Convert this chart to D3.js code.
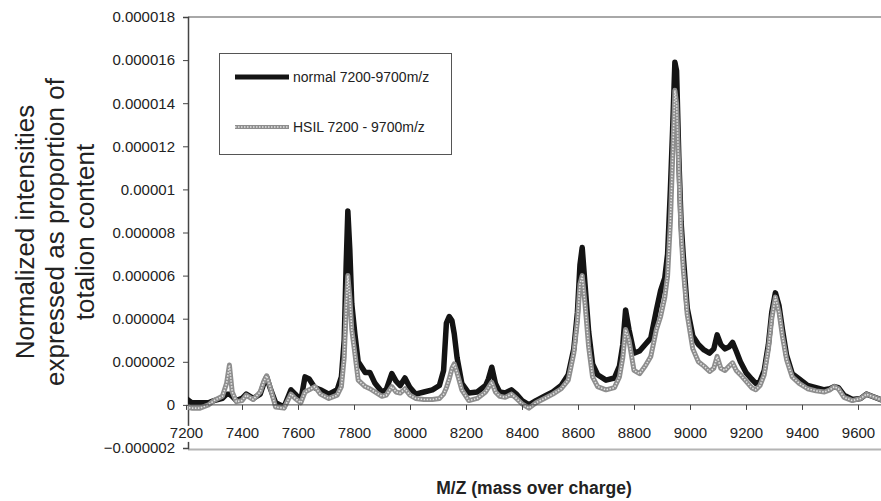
<!DOCTYPE html>
<html>
<head>
<meta charset="utf-8">
<script src="https://cdn.jsdelivr.net/npm/d3@7"></script>
<style>
  html, body { margin: 0; padding: 0; background: #fff; }
  svg { display: block; font-family: "Liberation Sans", Arial, sans-serif; }
</style>
</head>
<body>
<svg id="chart" width="881" height="501"></svg>
<script>
// ---- data (intensities in units of 1e-6) ----
const mz = [7200,7220,7250,7280,7300,7330,7345,7355,7365,7380,7400,7415,7440,7465,7478,7488,7500,7520,7550,7575,7590,7610,7625,7640,7660,7680,7710,7740,7755,7765,7772,7778,7785,7792,7803,7815,7840,7857,7875,7900,7915,7935,7950,7965,7982,8000,8020,8050,8080,8105,8120,8130,8140,8150,8158,8168,8185,8210,8240,8270,8280,8292,8305,8320,8340,8362,8380,8400,8425,8450,8480,8510,8540,8565,8585,8598,8607,8615,8625,8638,8652,8670,8700,8730,8748,8760,8770,8782,8800,8820,8840,8860,8880,8895,8910,8920,8930,8938,8946,8952,8960,8968,8976,8990,9010,9030,9050,9070,9085,9097,9110,9125,9140,9152,9165,9180,9200,9220,9235,9250,9265,9280,9292,9305,9318,9330,9345,9365,9390,9420,9450,9480,9500,9515,9530,9550,9580,9610,9630,9650,9680,9700];

const normalVals = [0.3,0.1,0.1,0.1,0.2,0.3,0.5,0.5,0.4,0.2,0.3,0.5,0.3,0.5,1.0,1.3,0.8,0.1,-0.1,0.7,0.5,0.2,1.3,1.2,0.8,0.7,0.5,0.7,1.3,3.0,6.5,9.0,7.2,4.7,3.3,2.0,1.5,1.5,1.0,0.6,0.7,1.45,1.1,0.9,1.25,0.8,0.5,0.6,0.7,0.9,1.6,3.8,4.1,3.9,3.3,2.2,1.0,0.55,0.6,0.9,1.2,1.75,1.0,0.6,0.55,0.7,0.5,0.2,0.0,0.2,0.4,0.6,0.9,1.4,2.6,4.3,6.5,7.3,5.6,3.4,1.9,1.4,1.15,1.25,1.8,2.8,4.4,3.5,2.4,2.5,2.8,3.1,4.4,5.3,5.9,7.0,10.0,12.8,15.9,15.5,11.5,8.5,6.9,4.5,3.2,2.8,2.55,2.4,2.6,3.25,2.8,2.6,2.7,2.9,2.5,2.0,1.5,1.2,1.0,1.1,1.6,2.8,4.3,5.2,4.6,3.5,2.3,1.45,1.2,0.9,0.8,0.7,0.75,0.85,0.8,0.45,0.25,0.3,0.5,0.4,0.25,0.2];

const hsilVals = [-0.1,-0.15,-0.15,0.0,0.2,0.4,1.0,1.85,0.6,0.15,0.2,0.45,0.25,0.6,1.1,1.35,0.85,-0.1,-0.15,0.5,0.3,0.1,0.6,0.7,0.85,0.5,0.3,0.45,0.85,2.2,4.5,6.0,5.0,3.5,2.4,1.15,0.85,0.75,0.6,0.4,0.45,0.85,0.6,0.55,0.75,0.45,0.3,0.25,0.25,0.3,0.5,0.8,1.2,1.7,1.9,1.5,0.7,0.2,0.3,0.6,0.8,1.05,0.6,0.4,0.35,0.5,0.3,0.05,-0.15,0.1,0.3,0.5,0.75,1.15,2.4,3.9,5.6,6.0,4.7,2.7,1.3,0.85,0.7,0.8,1.3,2.2,3.5,3.0,1.6,1.45,1.8,2.25,3.5,4.1,5.0,6.0,8.5,11.5,14.6,14.0,11.0,8.0,6.3,4.2,2.6,2.0,1.8,1.55,1.7,2.25,1.7,1.6,1.8,1.95,1.6,1.4,1.1,0.8,0.7,0.9,1.4,2.6,4.0,5.0,4.3,3.2,2.1,1.3,1.0,0.75,0.65,0.6,0.7,0.85,0.75,0.35,0.2,0.3,0.5,0.4,0.25,0.2];

const seriesNames = ["normal 7200-9700m/z", "HSIL 7200 - 9700m/z"];
const xTicks = [7200,7400,7600,7800,8000,8200,8400,8600,8800,9000,9200,9400,9600];
const yTicks = [-0.000002,0,0.000002,0.000004,0.000006,0.000008,0.00001,0.000012,0.000014,0.000016,0.000018];
const yTickLabels = ["\u22120.000002","0","0.000002","0.000004","0.000006","0.000008","0.00001","0.000012","0.000014","0.000016","0.000018"];
const yTitleLines = ["Normalized intensities","expressed as proportion of","totalion content"];
const xTitle = "M/Z (mass over charge)";

// ---- layout ----
const svg = d3.select("#chart");
const W = 881;
const x = d3.scaleLinear().domain([7200, 9700]).range([186, 886]);
const y = d3.scaleLinear().domain([-0.000002, 0.000018]).range([448, 17]);
const plotLeft = 188;

svg.append("defs").append("clipPath").attr("id", "clip")
  .append("rect").attr("x", plotLeft).attr("y", 0).attr("width", W - plotLeft).attr("height", 460);

// gray plot-area border lines (top & bottom)
svg.append("line").attr("x1", plotLeft).attr("x2", W).attr("y1", y(0.000018)).attr("y2", y(0.000018))
  .attr("stroke", "#a8a8a8").attr("stroke-width", 2);
svg.append("line").attr("x1", plotLeft).attr("x2", W).attr("y1", y(-0.000002) + 1.5).attr("y2", y(-0.000002) + 1.5)
  .attr("stroke", "#b4b4b4").attr("stroke-width", 2);

// y axis
const yAxis = d3.axisLeft(y).tickValues(yTicks)
  .tickFormat((d, i) => yTickLabels[i]).tickSize(5).tickPadding(8);
const gy = svg.append("g").attr("transform", `translate(${plotLeft},0)`).call(yAxis);
gy.select(".domain").attr("stroke", "#444").attr("stroke-width", 1.5);
gy.selectAll(".tick line").attr("stroke", "#444");
gy.selectAll("text").attr("font-size", 15).attr("fill", "#222")
  .attr("font-family", "Liberation Sans, Arial, sans-serif");

// data lines
const pts = (vals) => mz.map((m, i) => [m, vals[i] * 1e-6]);
const line = d3.line().x(d => x(d[0])).y(d => y(d[1])).curve(d3.curveLinear);
const plot = svg.append("g").attr("clip-path", "url(#clip)");
plot.append("path").datum(pts(normalVals)).attr("d", line)
  .attr("fill", "none").attr("stroke", "#141414").attr("stroke-width", 5.5).attr("stroke-linejoin", "round");
plot.append("path").datum(pts(hsilVals)).attr("d", line)
  .attr("fill", "none").attr("stroke", "#8e8e8e").attr("stroke-width", 5).attr("stroke-linejoin", "round");
plot.append("path").datum(pts(hsilVals)).attr("d", line)
  .attr("fill", "none").attr("stroke", "#e2e2e2").attr("stroke-width", 1.6)
  .attr("stroke-dasharray", "1.5,1.5").attr("stroke-linejoin", "round");

// x axis at y = 0
const xAxis = d3.axisBottom(x).tickValues(xTicks).tickFormat(d3.format("d")).tickSize(5).tickPadding(17.5);
const gx = svg.append("g").attr("transform", `translate(0,${y(0)})`).call(xAxis);
gx.select(".domain").remove();
gx.append("line").attr("x1", plotLeft).attr("x2", W).attr("y1", 0).attr("y2", 0)
  .attr("stroke", "#444").attr("stroke-width", 1);
gx.selectAll(".tick line").attr("stroke", "#444");
gx.selectAll("text").attr("font-size", 15).attr("fill", "#222")
  .attr("font-family", "Liberation Sans, Arial, sans-serif");
// white background behind the first label (it overlaps the y axis)
gx.selectAll(".tick").filter(d => d === 7200).insert("rect", "text")
  .attr("x", -17).attr("y", 21).attr("width", 34).attr("height", 16).attr("fill", "#fff");

// legend
const lg = svg.append("g");
lg.append("rect").attr("x", 219.5).attr("y", 53.5).attr("width", 232).attr("height", 101)
  .attr("fill", "#fff").attr("stroke", "#555").attr("stroke-width", 1);
const legY = [77, 127];
lg.append("line").attr("x1", 235).attr("x2", 289).attr("y1", legY[0]).attr("y2", legY[0])
  .attr("stroke", "#141414").attr("stroke-width", 5);
lg.append("line").attr("x1", 235).attr("x2", 289).attr("y1", legY[1]).attr("y2", legY[1])
  .attr("stroke", "#8e8e8e").attr("stroke-width", 4);
lg.append("line").attr("x1", 235).attr("x2", 289).attr("y1", legY[1]).attr("y2", legY[1])
  .attr("stroke", "#e2e2e2").attr("stroke-width", 1.4).attr("stroke-dasharray", "1.5,1.5");
seriesNames.forEach((s, i) => {
  lg.append("text").attr("x", 293).attr("y", legY[i] + 5).attr("font-size", 14).attr("fill", "#222").text(s);
});

// y title
const yt = svg.append("text").attr("transform", "translate(55,232) rotate(-90)")
  .attr("text-anchor", "middle").attr("font-size", 26).attr("fill", "#222");
yTitleLines.forEach((t, i) => {
  yt.append("tspan").attr("x", 0).attr("y", (i - 1) * 30 + 9).text(t);
});

// x title
svg.append("text").attr("x", 534).attr("y", 494).attr("text-anchor", "middle")
  .attr("font-size", 17.5).attr("font-weight", "bold").attr("fill", "#222").text(xTitle);
</script>
</body>
</html>
